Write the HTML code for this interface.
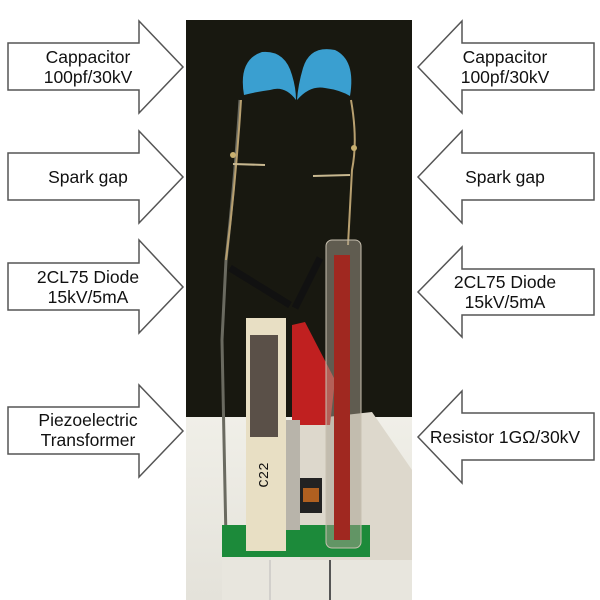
<!DOCTYPE html>
<html><head><style>
body{margin:0;width:600px;height:600px;background:#fff;overflow:hidden;position:relative;font-family:"Liberation Sans",sans-serif}
.t{position:absolute;font-size:17.5px;color:#111;text-align:center;line-height:20px}
</style></head><body>
<svg width="600" height="600" style="position:absolute;left:0;top:0">
<defs><linearGradient id="bg" x1="0" y1="0" x2="0" y2="1"><stop offset="0" stop-color="#f0efe8"/><stop offset="1" stop-color="#e4e2da"/></linearGradient></defs>
<rect x="186" y="20" width="226" height="400" fill="#181810"/>
<rect x="186" y="417" width="226" height="183" fill="url(#bg)"/>
<polygon points="300,420 372,412 412,470 412,600 300,600" fill="#ddd8cc"/>
<rect x="222" y="560" width="190" height="40" fill="#e8e6de"/>
<line x1="270" y1="560" x2="270" y2="600" stroke="#bbb"/>
<line x1="330" y1="560" x2="330" y2="600" stroke="#555" stroke-width="2"/>
<polygon points="292,325 305,322 335,380 330,425 292,425" fill="#c02020"/>
<path d="M240,100 Q235,180 226,260 L222,340 L226,540" stroke="#6a6a60" stroke-width="3" fill="none"/>
<path d="M241,100 Q236,180 226,260" stroke="#b8a070" stroke-width="2" fill="none"/>
<path d="M351,100 Q358,140 352,170 L348,245" stroke="#b8a070" stroke-width="2" fill="none"/>
<path d="M233,164 L265,165 M313,176 L350,175" stroke="#c8b890" stroke-width="2" fill="none"/>
<circle cx="233" cy="155" r="3" fill="#c8b070"/><circle cx="354" cy="148" r="3" fill="#c8b070"/>
<line x1="230" y1="268" x2="290" y2="305" stroke="#111" stroke-width="7"/>
<line x1="320" y1="258" x2="295" y2="308" stroke="#111" stroke-width="7"/>
<path d="M244,95 Q238,60 262,52 Q285,50 292,75 Q296,88 296,100 Q285,85 270,90 Q255,92 244,95Z" fill="#3a9fd0"/>
<path d="M350,96 Q356,60 335,50 Q310,45 303,68 Q298,85 297,100 Q310,85 325,88 Q340,90 350,96Z" fill="#3a9fd0"/>
<rect x="222" y="525" width="148" height="32" fill="#1c8a3a"/>
<rect x="300" y="478" width="22" height="35" fill="#222"/>
<rect x="303" y="488" width="16" height="14" fill="#b06020"/>
<rect x="246" y="318" width="40" height="233" fill="#e8dfc4"/>
<rect x="250" y="335" width="28" height="102" fill="#5a5048"/>
<rect x="286" y="420" width="14" height="110" fill="#b8b4aa"/>
<text x="268" y="475" font-size="14" font-family="Liberation Mono" transform="rotate(-90 268 475)" text-anchor="middle" fill="#111">C22</text>
<rect x="326" y="240" width="35" height="308" rx="6" fill="#a8a090" fill-opacity="0.5" stroke="#c8c0b0"/>
<rect x="334" y="255" width="16" height="285" fill="#a02820"/>
<g fill="#fff" stroke="#555" stroke-width="1.5">
<polygon points="8,43 139,43 139,21 183,67 139,113 139,90 8,90"/>
<polygon points="8,153 139,153 139,131 183,177 139,223 139,200 8,200"/>
<polygon points="8,263 139,263 139,240 183,287 139,333 139,310 8,310"/>
<polygon points="8,407 139,407 139,385 183,431 139,477 139,454 8,454"/>
<polygon points="594,43 462,43 462,21 418,67 462,113 462,90 594,90"/>
<polygon points="594,153 462,153 462,131 418,177 462,223 462,200 594,200"/>
<polygon points="594,269 462,269 462,247 418,292 462,337 462,315 594,315"/>
<polygon points="594,413 462,413 462,391 418,437 462,483 462,460 594,460"/>
</g>
</svg>
<div class="t" style="left:8px;top:47px;width:160px">Cappacitor<br>100pf/30kV</div>
<div class="t" style="left:8px;top:167px;width:160px">Spark gap</div>
<div class="t" style="left:8px;top:267px;width:160px">2CL75 Diode<br>15kV/5mA</div>
<div class="t" style="left:8px;top:410px;width:160px">Piezoelectric<br>Transformer</div>
<div class="t" style="left:430px;top:47px;width:150px">Cappacitor<br>100pf/30kV</div>
<div class="t" style="left:430px;top:167px;width:150px">Spark gap</div>
<div class="t" style="left:430px;top:272px;width:150px">2CL75 Diode<br>15kV/5mA</div>
<div class="t" style="left:420px;top:427px;width:170px">Resistor 1GΩ/30kV</div>
</body></html>
